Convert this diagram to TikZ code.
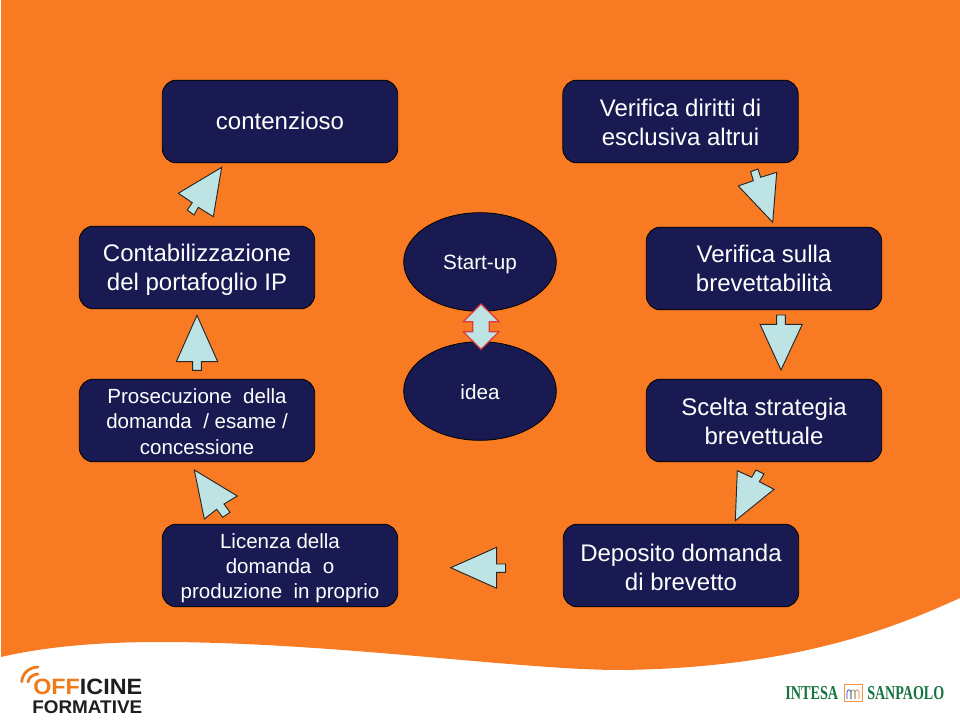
\documentclass[tikz,border=0pt]{standalone}
\usepackage{graphicx}
\usepackage{fontspec}
\setmainfont{Liberation Sans}
\newfontfamily\serifface{Liberation Serif}
\definecolor{bgorange}{HTML}{F87A22}
\definecolor{navy}{HTML}{1A1A52}
\definecolor{pale}{HTML}{BDE3E5}
\definecolor{redline}{HTML}{E0383C}
\definecolor{bankgreen}{HTML}{14733F}
\definecolor{logoorange}{HTML}{F07A1A}
\definecolor{logoblack}{HTML}{1E1E1E}
\usetikzlibrary{shapes.geometric}
\tikzset{
  box/.style={draw=black,line width=0.6pt,fill=navy,rounded corners=10.5pt,
    minimum width=176.5pt,minimum height=62pt,inner sep=0pt},
  bigtext/.style={text=white,align=center,inner sep=0pt,font=\fontsize{18}{21.6}\selectfont},
  smalltext/.style={text=white,align=center,inner sep=0pt,font=\fontsize{15.4}{19}\selectfont},
  oval/.style={ellipse,draw=black,line width=0.6pt,fill=navy,
    minimum width=114.5pt,minimum height=74pt,inner sep=0pt},
  ovaltext/.style={text=white,inner sep=0pt,font=\fontsize{15.5}{18}\selectfont},
  blockarrow/.style={draw=black!85,line width=0.7pt,fill=pale,line join=miter},
  doublearrow/.style={draw=redline,line width=0.9pt,fill=pale,line join=miter},
  wave/.style={draw=logoorange,line width=2.1pt,line cap=round},
}
\begin{document}
\begin{tikzpicture}[x=0.75pt,y=-0.75pt]
\useasboundingbox (0,0) rectangle (960,720);
\fill[white] (0,0) rectangle (960,720);
% orange background with curved lower edge
\fill[bgorange] (1,0) -- (960,0) -- (960,598)
  .. controls (900,625) and (800,668) .. (620,670)
  .. controls (520,670) and (330,642) .. (160,642)
  .. controls (90,642) and (40,648) .. (1,657) -- cycle;

% boxes
\node[box,label={[bigtext,yshift=0.75pt]center:contenzioso}] (conten) at (280,121.5) {};
\node[box,label={[bigtext,yshift=-0.75pt]center:{Verifica diritti di\\esclusiva altrui}}] (dirit) at (680.5,121.5) {};
\node[box,label={[bigtext,yshift=-1.5pt]center:{Contabilizzazione\\del portafoglio IP}}] (conta) at (197,267.5) {};
\node[box,label={[bigtext]center:{Verifica sulla\\brevettabilità}}] (brev) at (764,268.5) {};
\node[box,label={[smalltext,yshift=-0.75pt]center:{Prosecuzione\ \ della\\domanda\ \ / esame /\\concessione}}] (prose) at (197,420.5) {};
\node[box,label={[bigtext,yshift=-0.75pt]center:{Scelta strategia\\brevettuale}}] (scelta) at (764,420.5) {};
\node[box,label={[smalltext,yshift=-1.9pt]center:{Licenza della\\domanda\ \ o\\produzione\ \ in proprio}}] (lic) at (280,565.5) {};
\node[box,label={[bigtext,yshift=-1.5pt]center:{Deposito domanda\\di brevetto}}] (depo) at (681,565.5) {};

% ovals
\node[oval,label={[ovaltext,yshift=-1.5pt]center:Start-up}] (start) at (480,262) {};
\node[oval,label={[ovaltext,yshift=-0.75pt]center:idea}] (idea) at (480,391) {};

% block arrows
\draw[blockarrow] (772.7,222.3) -- (738.3,186) -- (753.3,180.7) -- (750.7,171.7) -- (758,169) -- (760.7,177.3) -- (776.7,172.3) -- cycle;
\draw[blockarrow] (781,370) -- (760,324.3) -- (776.7,324.3) -- (776.7,315) -- (785.3,315) -- (785.3,324.3) -- (802.3,324.3) -- cycle;
\draw[blockarrow] (735.3,520.7) -- (737.3,470.7) -- (751.7,477.3) -- (756,470) -- (764,474) -- (759.3,481.7) -- (774,489.3) -- cycle;
\draw[blockarrow] (450.7,567.7) -- (496.7,547.3) -- (496.7,564) -- (505.7,564) -- (505.7,572.3) -- (496.7,572.3) -- (496.7,588.3) -- cycle;
\draw[blockarrow] (194.3,470) -- (237.3,496) -- (224,504) -- (230,512.3) -- (222.7,517.3) -- (216.7,509.3) -- (204.3,519) -- cycle;
\draw[blockarrow] (197,315.3) -- (176.3,361.7) -- (192.7,361.7) -- (192.7,370.3) -- (201.3,370.3) -- (201.3,361.7) -- (217.7,361.7) -- cycle;
\draw[blockarrow] (221.7,167.3) -- (178.3,193.3) -- (192.3,202.7) -- (187.3,210) -- (194,215) -- (198.3,207.3) -- (213.3,216.7) -- cycle;
\draw[doublearrow] (481,304) -- (463.3,321.7) -- (472.7,321.7) -- (472.7,331.7) -- (463.3,331.7) -- (481,349.3) -- (499,331.7) -- (489.3,331.7) -- (489.3,321.7) -- (499,321.7) -- cycle;

% Officine Formative logo
\draw[wave] (21.7,681.7) .. controls (22.5,673) and (29,667.5) .. (38,667);
\draw[wave] (28,682) .. controls (28.5,678) and (32,674.5) .. (38,674);
\node[anchor=west,inner sep=0pt,text=logoblack,font=\bfseries] (off) at (33,687.2)
  {\resizebox{81.75pt}{11.6pt}{\color{logoorange}OFF\color{logoblack}ICINE}};
\node[anchor=west,inner sep=0pt,text=logoblack,font=\bfseries] (form) at (32,707)
  {\resizebox{82.5pt}{9.6pt}{FORMATIVE}};

% Intesa Sanpaolo logo
\node[anchor=west,inner sep=0pt,text=bankgreen,font=\serifface\bfseries] (intesa) at (785,693.5)
  {\resizebox{39.75pt}{9.75pt}{INTESA}};
\node[anchor=west,inner sep=0pt,text=bankgreen,font=\serifface\bfseries] (sanp) at (867,693.5)
  {\resizebox{57.75pt}{9.75pt}{SANPAOLO}};
\node[draw=logoorange!80,line width=0.8pt,fill=white,minimum width=13.5pt,minimum height=13pt,inner sep=0pt] (mark) at (853.5,693) {};
\draw[blue!60!gray,line width=0.5pt] (847,699) -- (847,692) .. controls (848,689) and (850,689) .. (851,692) -- (851,699);
\draw[bankgreen!70,line width=0.5pt] (851,699) -- (851,692) .. controls (852,689) and (854,689) .. (855,692) -- (855,699);
\draw[logoorange,line width=0.5pt] (855,699) -- (855,692) .. controls (856,689) and (858,689) .. (859,692) -- (859,699);
\end{tikzpicture}
\end{document}
